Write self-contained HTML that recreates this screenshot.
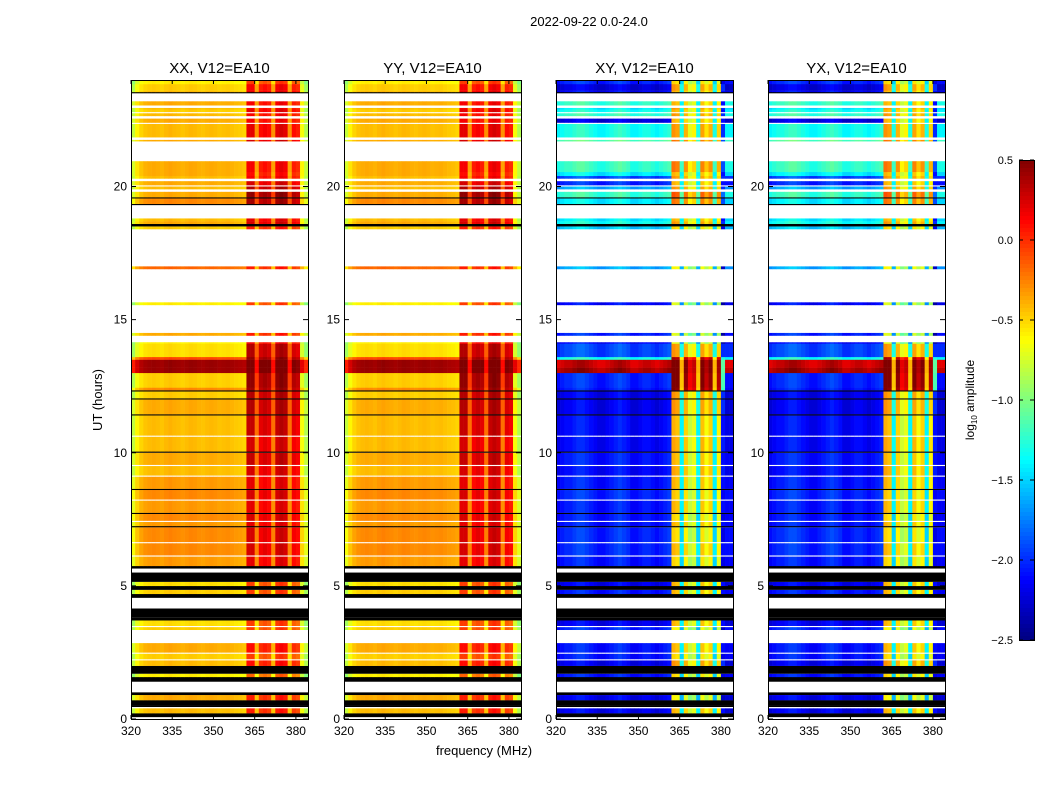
<!DOCTYPE html>
<html><head><meta charset="utf-8">
<style>
body{margin:0;background:#fff;}
svg text{font-family:"Liberation Sans",sans-serif;}
</style></head>
<body>
<svg id="chart" width="1050" height="800" xmlns="http://www.w3.org/2000/svg">
<rect x="0" y="0" width="1050" height="800" fill="#fff"/>
<text x="589" y="26" font-size="13" text-anchor="middle">2022-09-22 0.0-24.0</text>
<text x="484" y="755" font-size="13" text-anchor="middle">frequency (MHz)</text>
<text transform="translate(102,400) rotate(-90)" font-size="13" text-anchor="middle">UT (hours)</text>
<g id="panels"></g>
<g id="cbar"></g>
</svg>
<script>
// ---- data ----
const panelTitles = ["XX, V12=EA10","YY, V12=EA10","XY, V12=EA10","YX, V12=EA10"];
const panelKinds = ["par","par","cross","cross"];
const xTicks = [320,335,350,365,380];
const yTicks = [0,5,10,15,20];
const cbarTicks = [-2.5,-2.0,-1.5,-1.0,-0.5,0.0,0.5];
const cbarLabels = ["\u22122.5","\u22122.0","\u22121.5","\u22121.0","\u22120.5","0.0","0.5"];
// channel start frequencies (MHz), width 1.5
const chanFreq = [320,321.5,323,324.5,326,327.5,329,330.5,332,333.5,335,336.5,338,339.5,341,342.5,344,345.5,347,348.5,350,351.5,353,354.5,356,357.5,359,360.5,362,363.5,365,366.5,368,369.5,371,372.5,374,375.5,377,378.5,380,381.5,383];
const chanRfi   = [0,0,0,0,0,0,0,0,0,0,0,0,0,0,0,0,0,0,0,0,0,0,0,0,0,0,0,0,1,1,1,1,1,1,1,1,1,1,1,1,1,0,0];
const parOffset = [-0.35,-0.15,-0.05,0,0.02,0.03,0.02,0,0.03,0.05,0.03,0.02,0,0.02,0.04,0.03,0.01,0,0.02,0.03,0.02,0,0.01,0.02,0,-0.02,-0.03,-0.05,0.15,0.15,-0.35,0.05,0.1,0.05,-0.35,0.15,0.2,0.15,-0.35,0.05,0.0,-0.2,-0.4];
const crossOffset = [-0.1,-0.05,0,0,0.05,0.1,0.1,0.05,0,-0.05,-0.1,-0.1,-0.05,0,0.05,0.1,0.05,0,-0.1,-0.1,-0.05,0,0,-0.05,-0.1,-0.05,0,0.05,0.1,0.05,-0.9,0,-0.3,-0.2,-0.9,0.05,-0.15,0,-0.9,-0.1,-1.6,-0.1,-0.1];
// time segments: start hour, end hour, kind (d=data,w=blank,k=flagged black), parBase, parRfi, crossBase, crossRfi
const segStart = [0.0,0.07,0.22,0.40,0.45,0.49,0.71,0.90,1.00,1.40,1.58,1.70,2.00,2.20,2.25,2.45,2.50,2.85,3.35,3.45,3.50,3.70,3.80,4.15,4.55,4.70,4.85,5.00,5.15,5.50,5.65,5.75,6.10,6.15,6.60,6.65,7.20,7.25,7.40,7.45,7.70,7.75,8.20,8.25,8.60,8.65,9.10,9.15,9.50,9.55,10.00,10.05,10.60,10.65,11.40,11.45,12.00,12.05,12.30,12.35,12.45,13.00,13.20,13.50,13.60,14.10,14.15,14.40,14.50,15.55,15.65,16.90,17.00,18.40,18.50,18.60,18.70,18.80,19.30,19.35,19.55,19.60,19.80,19.90,20.00,20.05,20.20,20.30,20.40,20.55,20.95,21.70,21.75,21.85,22.35,22.40,22.55,22.65,22.75,22.80,22.90,22.95,23.05,23.20,23.50,23.55,23.60,23.85];
const segEnd   = [0.07,0.22,0.40,0.45,0.49,0.71,0.90,1.00,1.40,1.58,1.70,2.00,2.20,2.25,2.45,2.50,2.85,3.35,3.45,3.50,3.70,3.80,4.15,4.55,4.70,4.85,5.00,5.15,5.50,5.65,5.75,6.10,6.15,6.60,6.65,7.20,7.25,7.40,7.45,7.70,7.75,8.20,8.25,8.60,8.65,9.10,9.15,9.50,9.55,10.00,10.05,10.60,10.65,11.40,11.45,12.00,12.05,12.30,12.35,12.45,13.00,13.20,13.50,13.60,14.10,14.15,14.40,14.50,15.55,15.65,16.90,17.00,18.40,18.50,18.60,18.70,18.80,19.30,19.35,19.55,19.60,19.80,19.90,20.00,20.05,20.20,20.30,20.40,20.55,20.95,21.70,21.75,21.85,22.35,22.40,22.55,22.65,22.75,22.80,22.90,22.95,23.05,23.20,23.50,23.55,23.60,23.85,24.00];
const segKind  = ["w","k","d","w","k","k","d","k","w","k","d","k","d","w","d","w","d","w","d","w","d","k","k","w","k","d","k","d","k","w","k","d","w","d","w","d","k","d","w","d","k","d","w","d","k","d","w","d","w","d","k","d","w","d","k","d","k","d","k","d","d","d","d","d","d","d","w","d","w","d","w","d","w","d","k","d","d","w","k","d","k","d","w","d","w","d","w","d","d","d","w","d","w","d","w","d","w","d","w","d","d","w","d","w","k","d","d","d"];
const parBase  = [0,0,-0.45,0,0,0,-0.4,0,0,0,-0.6,0,-0.45,0,-0.5,0,-0.4,0,-0.5,0,-0.55,0,0,0,0,-0.5,0,-0.55,0,0,0,-0.35,0,-0.3,0,-0.3,0,-0.35,0,-0.3,0,-0.35,0,-0.3,0,-0.35,0,-0.45,0,-0.4,0,-0.45,0,-0.45,0,-0.4,0,-0.5,0,-0.3,-0.5,0.4,0.4,-0.1,-0.55,-0.6,0,-0.4,0,-0.6,0,-0.2,0,-0.5,0,-0.4,-0.45,0,0,-0.3,0,-0.4,0,-0.45,0,-0.4,0,-0.45,-0.4,-0.4,0,-0.4,0,-0.45,0,-0.4,0,-0.45,0,-0.5,-0.45,0,-0.4,0,0,-0.45,-0.5,-0.6];
const parRfi   = [0,0,-0.1,0,0,0,-0.1,0,0,0,-0.3,0,-0.05,0,-0.2,0,-0.05,0,-0.2,0,-0.2,0,0,0,0,-0.2,0,-0.2,0,0,0,0.05,0,0.1,0,0.1,0,0.05,0,0.1,0,0.05,0,0.1,0,0.05,0,0.1,0,0.15,0,0.1,0,0.15,0,0.2,0,0.2,0,0.25,0.3,0.45,0.45,0.3,0.2,0.0,0,-0.1,0,-0.2,0,-0.1,0,-0.1,0,0.1,0.05,0,0,0.25,0,0.3,0,0.2,0,0.1,0,0.0,-0.05,0.0,0,0.1,0,0.05,0,0.0,0,0.0,0,0.05,0.0,0,0.0,0,0,0.05,0.0,-0.2];
const crossBase = [0,0,-2.15,0,0,0,-2.15,0,0,0,-2.05,0,-2.15,0,-2.05,0,-2.05,0,-2.0,0,-2.15,0,0,0,0,-2.05,0,-2.15,0,0,0,-2.05,0,-2.0,0,-2.0,0,-2.05,0,-2.05,0,-2.05,0,-2.0,0,-2.05,0,-2.1,0,-2.05,0,-2.1,0,-2.1,0,-2.15,0,-2.15,0,-2.05,-2.0,0.4,0.3,-1.3,-1.9,-2.1,0,-2.0,0,-2.1,0,-1.6,0,-1.5,0,-1.3,-1.4,0,0,-1.4,0,-1.2,0,-1.6,0,-2.0,0,-1.9,-1.4,-1.2,0,-1.1,0,-1.3,0,-2.2,0,-1.2,0,-1.3,-1.4,0,-1.2,0,0,-2.1,-2.2,-2.0];
const crossRfi  = [0,0,-0.5,0,0,0,-0.7,0,0,0,-0.6,0,-0.4,0,-0.6,0,-0.5,0,-0.7,0,-0.5,0,0,0,0,-0.5,0,-0.5,0,0,0,-0.6,0,-0.5,0,-0.6,0,-0.5,0,-0.6,0,-0.5,0,-0.55,0,-0.5,0,-0.45,0,-0.5,0,-0.45,0,-0.5,0,-0.4,0,-0.4,0,0.4,0.45,0.5,0.5,0.3,-0.4,-0.8,0,-0.8,0,-0.8,0,-0.7,0,-0.6,0,-0.4,-0.5,0,0,-0.3,0,-0.2,0,-0.4,0,-0.5,0,-0.4,-0.5,-0.3,0,-0.3,0,-0.4,0,-0.5,0,-0.4,0,-0.5,-0.4,0,-0.5,0,0,-0.5,-0.4,-0.6];

// ---- helpers ----
const NS="http://www.w3.org/2000/svg";
const panelX0=[131,344,556,768], panelW=177, yTop=80, yBot=719;
const fMin=320,fMax=384.4,hMin=0,hMax=24, vMin=-2.5,vMax=0.5;
function xs(p,f){return panelX0[p]+(f-fMin)/(fMax-fMin)*panelW;}
function ys(h){return yBot-(h-hMin)/(hMax-hMin)*(yBot-yTop);}
function jet(t){
  t=Math.max(0,Math.min(1,t));
  function c(x){return Math.max(0,Math.min(1,x));}
  const r=c(1.5-Math.abs(4*t-3)), g=c(1.5-Math.abs(4*t-2)), b=c(1.5-Math.abs(4*t-1));
  return "rgb("+Math.round(r*255)+","+Math.round(g*255)+","+Math.round(b*255)+")";
}
function mk(tag,attrs,parent){const e=document.createElementNS(NS,tag);for(const k in attrs)e.setAttribute(k,attrs[k]);parent.appendChild(e);return e;}

const panels=document.getElementById("panels");
for(let p=0;p<4;p++){
  const g=mk("g",{},panels);
  
  
  const cross=panelKinds[p]==="cross";
  for(let s=0;s<segStart.length;s++){
    const y1=ys(segEnd[s]), y2=ys(segStart[s]);
    if(segKind[s]==="w") continue;
    if(segKind[s]==="k"){
      const r=mk("rect",{x:panelX0[p],y:y1,width:panelW,height:y2-y1,fill:"#000"},g);
      
      
      continue;
    }
    for(let c=0;c<chanFreq.length;c++){
      const base = cross ? (chanRfi[c]?crossRfi[s]:crossBase[s]) : (chanRfi[c]?parRfi[s]:parBase[s]);
      const off = cross ? crossOffset[c] : parOffset[c];
      const v = base+off;
      const x1=xs(p,chanFreq[c]), x2=xs(p,Math.min(chanFreq[c]+1.5,fMax));
      const r=mk("rect",{x:x1,y:y1,width:x2-x1+0.3,height:y2-y1+0.2,fill:jet((v-vMin)/(vMax-vMin))},g);
      
      
    }
  }
  const fr=mk("rect",{x:panelX0[p]+0.5,y:yTop+0.5,width:panelW,height:yBot-yTop,fill:"none",stroke:"#000","stroke-width":1},g);
  
  
  const t=mk("text",{x:panelX0[p]+panelW/2,y:73,"font-size":15,"text-anchor":"middle"},g);
  t.textContent=panelTitles[p];
  
  
  for(const f of xTicks){
    const x=xs(p,f);
    mk("line",{x1:x,y1:yBot,x2:x,y2:yBot-4,stroke:"#000"},g);
    mk("line",{x1:x,y1:yTop,x2:x,y2:yTop+4,stroke:"#000"},g);
    const tl=mk("text",{x:x,y:735,"font-size":12,"text-anchor":"middle"},g);
    tl.textContent=f;
    
    
  }
  for(const h of yTicks){
    const y=ys(h);
    mk("line",{x1:panelX0[p],y1:y,x2:panelX0[p]+5,y2:y,stroke:"#000"},g);
    mk("line",{x1:panelX0[p]+panelW,y1:y,x2:panelX0[p]+panelW-5,y2:y,stroke:"#000"},g);
    const tl=mk("text",{x:panelX0[p]-4,y:y+4,"font-size":12,"text-anchor":"end"},g);
    tl.textContent=h;
    
    
  }
}
// colorbar
const cb=document.getElementById("cbar");


const cbX=1019,cbW=15,cbT=160,cbB=640;
function cy(v){return cbB-(v-vMin)/(vMax-vMin)*(cbB-cbT);}
for(let i=0;i<120;i++){
  const y1=cbT+i*(cbB-cbT)/120;
  mk("rect",{x:cbX,y:y1,width:cbW,height:(cbB-cbT)/120+0.5,fill:jet(1-(i+0.5)/120)},cb);
}
mk("rect",{x:cbX+0.5,y:cbT+0.5,width:cbW,height:cbB-cbT,fill:"none",stroke:"#000"},cb);
for(let i=0;i<cbarTicks.length;i++){
  const y=cy(cbarTicks[i]);
  mk("line",{x1:cbX,y1:y,x2:cbX+4,y2:y,stroke:"#000"},cb);
  mk("line",{x1:cbX+cbW,y1:y,x2:cbX+cbW-4,y2:y,stroke:"#000"},cb);
  const tl=mk("text",{x:1013,y:y+4,"font-size":11,"text-anchor":"end"},cb);
  tl.textContent=cbarLabels[i];
  
  
}
const cl=mk("text",{transform:"translate(974,400) rotate(-90)","font-size":12,"text-anchor":"middle"},cb);
cl.innerHTML='log<tspan font-size="8" dy="3">10</tspan><tspan dy="-3"> amplitude</tspan>';


</script>
</body></html>
